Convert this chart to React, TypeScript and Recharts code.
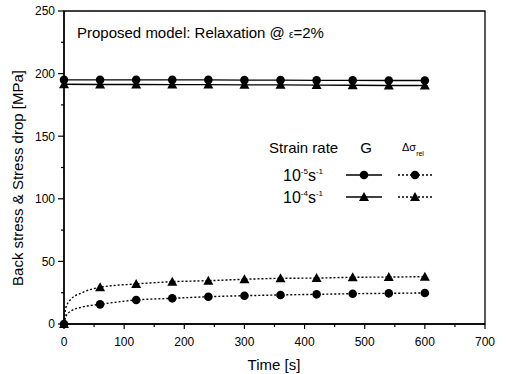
import { LineChart, Line, XAxis, YAxis, ReferenceArea } from "recharts";

// sample times (s) where markers are drawn
const times = [0, 60, 120, 180, 240, 300, 360, 420, 480, 540, 600];

// back stress G [MPa]
const gSlow = [195, 195, 195, 195, 195, 194.8, 194.8, 194.6, 194.6, 194.5, 194.5];
const gFast = [191.5, 191.3, 191.3, 191.2, 191.2, 191, 191, 190.8, 190.7, 190.5, 190.5];

// stress drop at markers
const relSlow = [0, 15.7, 19.2, 20.5, 21.8, 22.6, 23.2, 23.7, 24.2, 24.5, 24.8];
const relFast = [0, 29.3, 32, 33.8, 34.6, 35.7, 36.5, 36.7, 37.3, 37.5, 37.8];

// fitted dotted curves
const fitTimes = [0, 3, 12, 30, 60, 120, 180, 240, 300, 360, 420, 480, 540, 600];
const fitSlow = [0, 6, 10.5, 13.5, 15.7, 19.2, 20.5, 21.8, 22.6, 23.2, 23.7, 24.2, 24.5, 24.8];
const fitFast = [0, 13, 20, 25, 29.3, 32, 33.8, 34.6, 35.7, 36.5, 36.7, 37.3, 37.5, 37.8];

const xTicks = [0, 50, 100, 150, 200, 250, 300, 350, 400, 450, 500, 550, 600, 650, 700];
const yTicks = [0, 25, 50, 75, 100, 125, 150, 175, 200, 225, 250];

const font = "Arial, 'Liberation Sans', sans-serif";

const toRows = (xs: number[], ys: number[]) => xs.map((t, i) => ({ t, v: ys[i] }));

const Circle = (p: any) =>
  p.cx == null ? <g /> : <circle key={p.index} cx={p.cx} cy={p.cy} r={4.3} fill="#000" />;

const Tri = (p: any) =>
  p.cx == null ? (
    <g />
  ) : (
    <polygon
      key={p.index}
      points={`${p.cx},${p.cy - 5} ${p.cx - 5},${p.cy + 4} ${p.cx + 5},${p.cy + 4}`}
      fill="#000"
    />
  );

const XTick = (p: any) => {
  const v = p.payload.value;
  const major = v % 100 === 0;
  return (
    <g>
      <line x1={p.x} x2={p.x} y1={p.y} y2={p.y + (major ? 5 : 3)} stroke="#000" strokeWidth={1.2} />
      {major && (
        <text x={p.x} y={p.y + 22} textAnchor="middle" fontSize={12} fontFamily={font} fill="#000">
          {v}
        </text>
      )}
    </g>
  );
};

const YTick = (p: any) => {
  const v = p.payload.value;
  const major = v % 50 === 0;
  return (
    <g>
      <line x1={p.x - (major ? 6 : 3)} x2={p.x} y1={p.y} y2={p.y} stroke="#000" strokeWidth={1.2} />
      {major && (
        <text x={p.x - 9} y={p.y + 4.3} textAnchor="end" fontSize={12} fontFamily={font} fill="#000">
          {v}
        </text>
      )}
    </g>
  );
};

export default function App() {
  return (
    <div style={{ position: "absolute", left: 0, top: 0, width: 506, height: 374, background: "#fff" }}>
      <LineChart width={506} height={374} margin={{ top: 11, right: 21, bottom: 0, left: 0 }}>
        <XAxis
          dataKey="t"
          type="number"
          domain={[0, 700]}
          ticks={xTicks}
          interval={0}
          tickSize={0}
          tickMargin={0}
          tickLine={false}
          tick={XTick}
          height={50}
          axisLine={{ stroke: "#000", strokeWidth: 1.4 }}
          allowDuplicatedCategory={false}
        />
        <YAxis
          type="number"
          domain={[0, 250]}
          ticks={yTicks}
          interval={0}
          tickSize={0}
          tickMargin={0}
          tickLine={false}
          tick={YTick}
          width={64}
          axisLine={{ stroke: "#000", strokeWidth: 1.4 }}
        />
        <ReferenceArea x1={0} x2={700} y1={0} y2={250} fill="none" stroke="#000" strokeWidth={1.3} />
        <Line data={toRows(times, gSlow)} dataKey="v" stroke="#000" strokeWidth={1.3} dot={Circle} isAnimationActive={false} />
        <Line data={toRows(times, gFast)} dataKey="v" stroke="#000" strokeWidth={1.3} dot={Tri} isAnimationActive={false} />
        <Line
          data={toRows(fitTimes, fitSlow)}
          dataKey="v"
          type="monotone"
          stroke="#000"
          strokeWidth={1.4}
          strokeDasharray="2 2"
          dot={false}
          isAnimationActive={false}
        />
        <Line
          data={toRows(fitTimes, fitFast)}
          dataKey="v"
          type="monotone"
          stroke="#000"
          strokeWidth={1.4}
          strokeDasharray="2 2"
          dot={false}
          isAnimationActive={false}
        />
        <Line data={toRows(times, relSlow)} dataKey="v" stroke="none" dot={Circle} isAnimationActive={false} />
        <Line data={toRows(times, relFast)} dataKey="v" stroke="none" dot={Tri} isAnimationActive={false} />
      </LineChart>
      <svg
        width={506}
        height={374}
        style={{ position: "absolute", left: 0, top: 0, pointerEvents: "none" }}
        fontFamily={font}
      >
        <text x={77} y={38} fontSize={15} fill="#000">
          Proposed model: Relaxation @ <tspan fontSize={10}>ε</tspan>=2%
        </text>
        <text x={274} y={370} fontSize={15} textAnchor="middle" fill="#000">
          Time [s]
        </text>
        <text
          x={0}
          y={0}
          fontSize={15}
          textAnchor="middle"
          fill="#000"
          transform="translate(23,178) rotate(-90)"
        >
          Back stress &amp; Stress drop [MPa]
        </text>
        {/* legend */}
        <text x={269} y={153} fontSize={15} fill="#000">Strain rate</text>
        <text x={366} y={153} fontSize={15} textAnchor="middle" fill="#000">G</text>
        <text x={402} y={151} fontSize={11} fill="#000">
          Δσ<tspan fontSize={7} dy={5}>rel</tspan>
        </text>
        <text x={283} y={181} fontSize={16} fill="#000">
          10<tspan fontSize={8} dy={-7}>-5</tspan><tspan dy={7}>s</tspan><tspan fontSize={8} dy={-7}>-1</tspan>
        </text>
        <text x={283} y={203} fontSize={16} fill="#000">
          10<tspan fontSize={8} dy={-7}>-4</tspan><tspan dy={7}>s</tspan><tspan fontSize={8} dy={-7}>-1</tspan>
        </text>
        <line x1={346} x2={382} y1={175} y2={175} stroke="#000" strokeWidth={1.3} />
        <circle cx={364} cy={175} r={4.3} fill="#000" />
        <line x1={398} x2={432} y1={175} y2={175} stroke="#000" strokeWidth={1.4} strokeDasharray="2 2" />
        <circle cx={415} cy={175} r={4.3} fill="#000" />
        <line x1={346} x2={382} y1={197} y2={197} stroke="#000" strokeWidth={1.3} />
        <polygon points="364,192 359,201 369,201" fill="#000" />
        <line x1={398} x2={432} y1={197} y2={197} stroke="#000" strokeWidth={1.4} strokeDasharray="2 2" />
        <polygon points="415,192 410,201 420,201" fill="#000" />
      </svg>
    </div>
  );
}
